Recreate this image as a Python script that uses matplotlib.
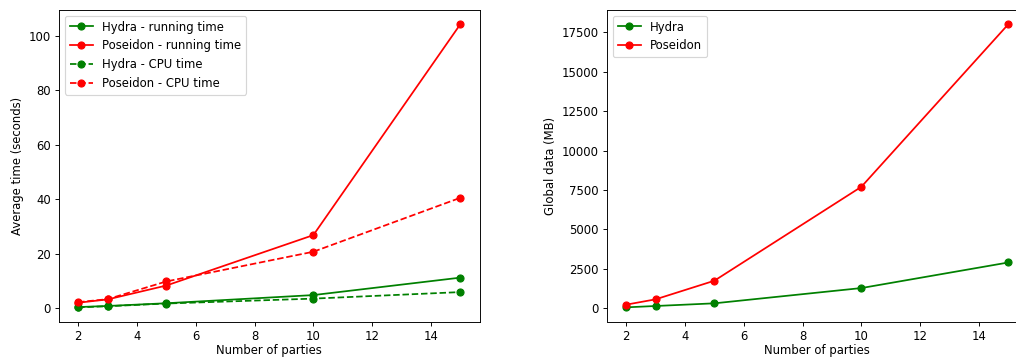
import matplotlib
matplotlib.use('Agg')
import matplotlib.pyplot as plt

parties = [2, 3, 5, 10, 15]

hydra_running = [0.4, 0.8, 1.8, 4.8, 11.2]
poseidon_running = [2.0, 3.2, 8.3, 26.8, 104.2]
hydra_cpu = [0.3, 0.7, 1.7, 3.5, 5.9]
poseidon_cpu = [2.2, 3.3, 9.8, 20.7, 40.5]

hydra_data = [40, 125, 295, 1265, 2890]
poseidon_data = [210, 548, 1730, 7695, 18025]

# the reference looks like a default-styled figure shrunk down, so render at a lower dpi
dpi = 84
W, H = 1016, 358
fig = plt.figure(figsize=(W / dpi, H / dpi), dpi=dpi)
ax1 = fig.add_axes([59 / W, 36.5 / H, 420.5 / W, 311.5 / H])
ax2 = fig.add_axes([607 / W, 36.5 / H, 420.5 / W, 311.5 / H])

ax1.plot(parties, hydra_running, 'go-', label='Hydra - running time')
ax1.plot(parties, poseidon_running, 'ro-', label='Poseidon - running time')
ax1.plot(parties, hydra_cpu, 'go--', label='Hydra - CPU time')
ax1.plot(parties, poseidon_cpu, 'ro--', label='Poseidon - CPU time')
ax1.set_xlabel('Number of parties', labelpad=1.5)
ax1.set_ylabel('Average time (seconds)')
ax1.legend(loc='upper left')

ax2.plot(parties, hydra_data, 'go-', label='Hydra')
ax2.plot(parties, poseidon_data, 'ro-', label='Poseidon')
ax2.set_xlabel('Number of parties', labelpad=1.5)
ax2.set_ylabel('Global data (MB)')
ax2.legend(loc='upper left')

fig.savefig('out.png', dpi=dpi)
